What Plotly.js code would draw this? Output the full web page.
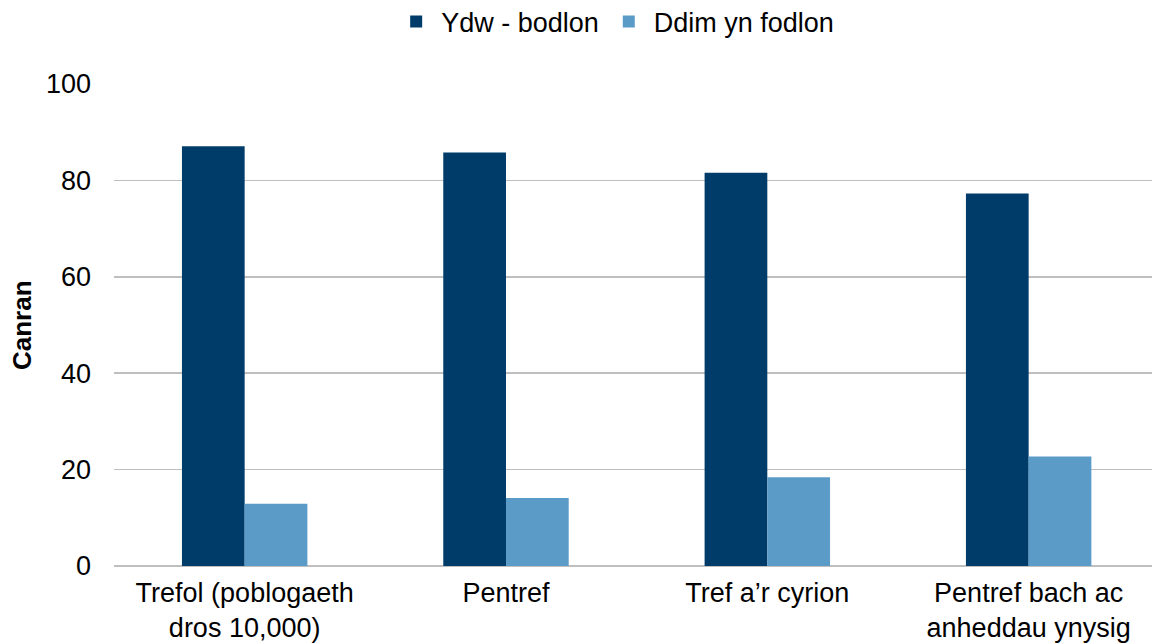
<!DOCTYPE html>
<html>
<head>
<meta charset="utf-8">
<script src="https://cdn.plot.ly/plotly-3.0.1.min.js"></script>
<style>html,body{margin:0;padding:0;background:#fff;}#chart{width:1152px;height:643px;}</style>
</head>
<body>
<div id="chart"></div>
<script>
const categories = ["Trefol (poblogaeth<br>dros 10,000)", "Pentref", "Tref a’r cyrion", "Pentref bach ac<br>anheddau ynysig"];
const seriesNames = ["Ydw - bodlon", "Ddim yn fodlon"];
const satisfied = [87.1, 85.8, 81.6, 77.3];
const notSatisfied = [12.9, 14.1, 18.4, 22.7];
const yTicks = [0, 20, 40, 60, 80, 100];
const yAxisTitle = "Canran";

const font = "Liberation Sans, Arial, sans-serif";
const data = [
  {type: "bar", name: seriesNames[0], x: categories, y: satisfied, marker: {color: "#003C69"}},
  {type: "bar", name: seriesNames[1], x: categories, y: notSatisfied, marker: {color: "#5B9BC8"}}
];
const layout = {
  width: 1152, height: 643,
  margin: {l: 114, r: 0, t: 84, b: 77},
  paper_bgcolor: "#fff", plot_bgcolor: "#fff",
  barmode: "group", bargap: 0.52, bargroupgap: 0,
  font: {family: font, size: 27, color: "#000"},
  showlegend: true,
  legend: {orientation: "h", xref: "container", yref: "container", x: 0.534, xanchor: "center", y: 0.966, yanchor: "middle", font: {size: 27}, itemwidth: 40},
  xaxis: {type: "category", range: [-0.5, 3.472], showgrid: false, showline: false, zeroline: false, ticks: "", ticklabelstandoff: 8, tickfont: {size: 27}, automargin: false},
  yaxis: {range: [0, 100], tickvals: yTicks, ticktext: yTicks.map(String), showgrid: true, gridcolor: "#BFBFBF", gridwidth: 1.7, zeroline: true, zerolinecolor: "#BFBFBF", zerolinewidth: 1.7, showline: false, ticks: "", ticklabelstandoff: 22, tickfont: {size: 27}, automargin: false},
  annotations: [{text: "<b>" + yAxisTitle + "</b>", xref: "paper", yref: "paper", x: 0, y: 0.5, xshift: -92, textangle: -90, showarrow: false, xanchor: "center", yanchor: "middle", font: {size: 26}}]
};
Plotly.newPlot("chart", data, layout, {displayModeBar: false, staticPlot: true});
</script>
</body>
</html>
